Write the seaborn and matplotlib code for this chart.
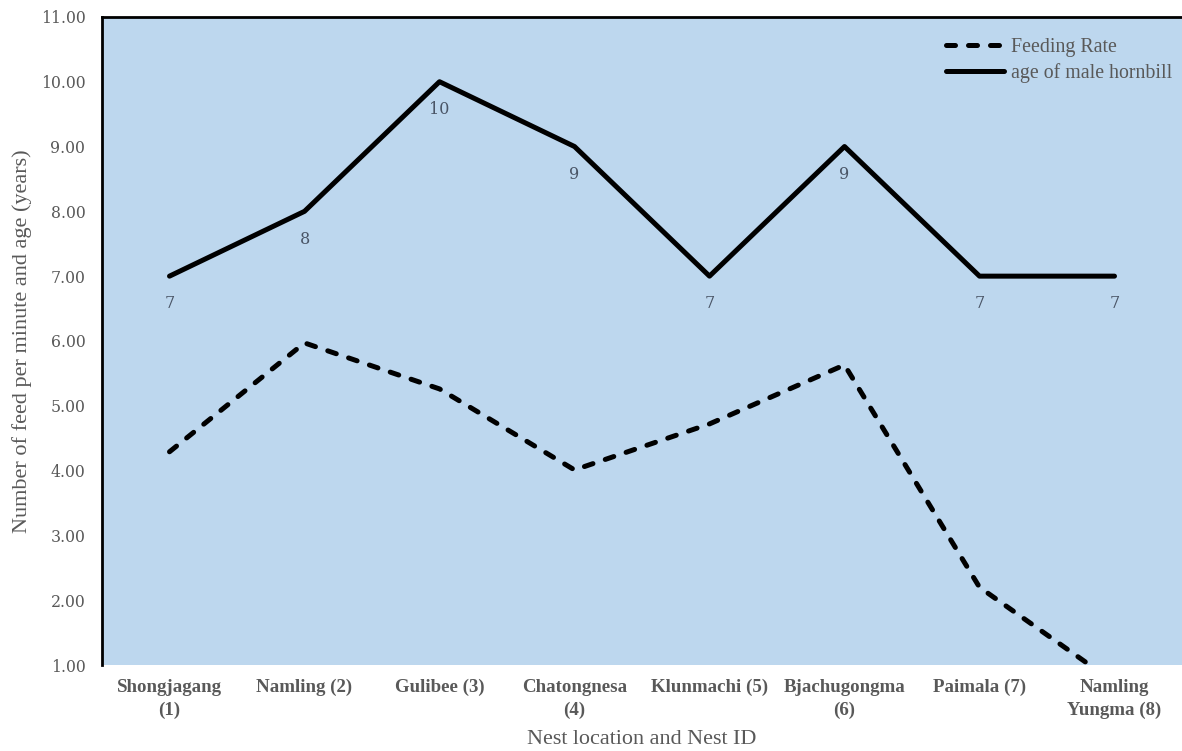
import matplotlib
matplotlib.use("Agg")
import matplotlib.pyplot as plt
import seaborn as sns
import numpy as np
import pandas as pd

# Nest sites and the two measured series
nests = ["Shongjagang\n(1)", "Namling (2)", "Gulibee (3)", "Chatongnesa\n(4)",
         "Klunmachi (5)", "Bjachugongma\n(6)", "Paimala (7)", "Namling\nYungma (8)"]
feeding_rate = [4.29, 5.97, 5.26, 4.01, 4.72, 5.63, 2.20, 0.73]
male_age = [7, 8, 10, 9, 7, 9, 7, 7]
y_ticks = [1, 2, 3, 4, 5, 6, 7, 8, 9, 10, 11]

sns.set_theme(style="white")
plt.rcParams["font.family"] = ["Liberation Serif", "DejaVu Serif"]

gray = "#595959"
df = pd.DataFrame({"pos": np.arange(len(nests)),
                   "Feeding Rate": feeding_rate,
                   "age of male hornbill": male_age})

fig = plt.figure(figsize=(11.82, 7.51), dpi=100)
ax = fig.add_axes([0.0863, 0.1145, 0.9137, 0.863])
ax.set_facecolor("#BDD7EE")

sns.lineplot(data=df, x="pos", y="Feeding Rate", ax=ax, color="black",
             linewidth=3.6, dashes=False, label="Feeding Rate", sort=False)
ax.lines[-1].set_dashes([1.8, 2.6])
ax.lines[-1].set_dash_capstyle("round")
sns.lineplot(data=df, x="pos", y="age of male hornbill", ax=ax, color="black",
             linewidth=3.6, label="age of male hornbill", sort=False)

# value labels under the age line
for xi, v in zip(df["pos"], male_age):
    ax.annotate(f"{v}", (xi, v), xytext=(0, -20), textcoords="offset points",
                ha="center", va="center", fontsize=11.5, color="#4A5566",
                family=["DejaVu Serif"])

ax.set_xlim(-0.5, len(nests) - 0.5)
ax.set_ylim(1, 11)
ax.set_yticks(y_ticks)
ax.set_yticklabels([f"{t:.2f}" for t in y_ticks], color=gray, fontsize=11.3,
                   family=["DejaVu Serif"])
ax.set_xticks(df["pos"])
ax.set_xticklabels(nests, color=gray, fontsize=13.6, fontweight="bold",
                   linespacing=1.4)
ax.tick_params(axis="y", length=0, pad=12)
ax.tick_params(axis="x", length=0, pad=10)

ax.set_xlabel("Nest location and Nest ID", color=gray, fontsize=15.9, labelpad=8)
ax.set_ylabel("Number of feed per minute and age (years)", color=gray,
              fontsize=16, labelpad=6)

for side in ["bottom", "right"]:
    ax.spines[side].set_visible(False)
for side in ["top", "left"]:
    ax.spines[side].set_visible(True)
    ax.spines[side].set_color("black")
    ax.spines[side].set_linewidth(2)

leg = ax.legend(loc="upper right", bbox_to_anchor=(1.002, 0.986),
                frameon=False, fontsize=14.3,
                handlelength=2.9, handletextpad=0.35, labelspacing=0.3,
                borderaxespad=0.15, borderpad=0.45)
for t in leg.get_texts():
    t.set_color(gray)

fig.savefig("out.png", dpi=100, facecolor="white")
